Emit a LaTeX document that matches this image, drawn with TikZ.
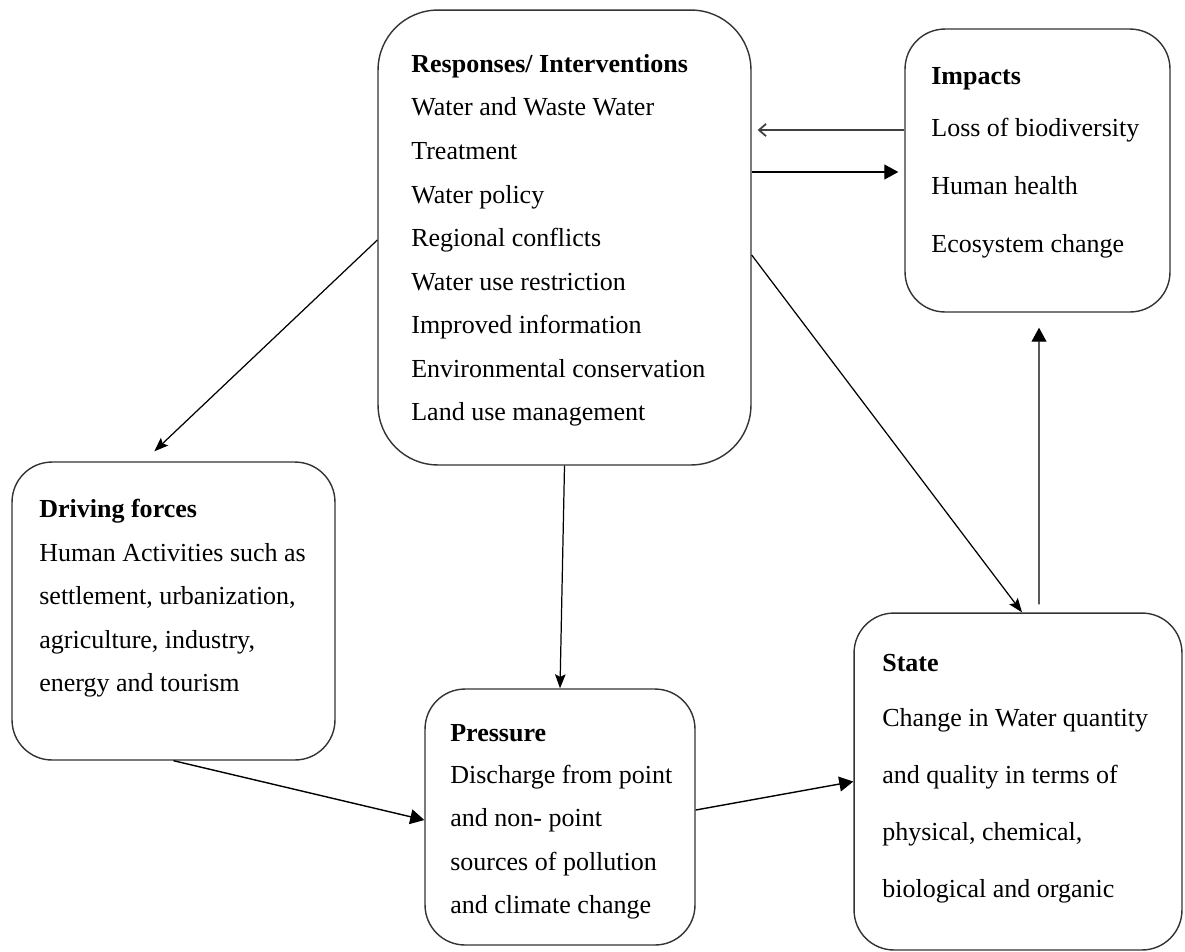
\documentclass[tikz,border=0pt]{standalone}
\usepackage{fontspec}
\setmainfont{Liberation Serif}
\usetikzlibrary{positioning,arrows.meta,calc}

\tikzset{
  box/.style={draw=black!80, line width=0.8pt, rounded corners=0.8cm, inner sep=0pt},
  txt/.style={anchor=north west, inner sep=0pt, align=left, font=\fontsize{14.8}{24.8}\selectfont},
  arr/.style={-{Triangle[length=8pt,width=8.5pt]}, line width=0.8pt},
  thin arr/.style={-{Stealth[length=8pt,width=6pt,inset=1.5pt]}, line width=0.7pt},
  back arr/.style={-{Straight Barb[length=4pt,width=7pt]}, line width=1pt, black!75}
}

\begin{document}
\begin{tikzpicture}[x=0.02cm, y=-0.02cm]
        \useasboundingbox (0,0) rectangle (1185,951);

        % Caixas
        \node[box, rounded corners=1.2cm, minimum width=7.46cm, minimum height=9.1cm] (resp) at (564.5,237.5) {};
        \node[box, minimum width=5.3cm, minimum height=5.66cm] (imp) at (1037.5,170.5) {};
        \node[box, minimum width=6.46cm, minimum height=5.96cm] (drive) at (173.5,611) {};
        \node[box, minimum width=5.4cm, minimum height=5.12cm] (press) at (560,817) {};
        \node[box, minimum width=6.56cm, minimum height=6.74cm] (state) at (1018,781.5) {};

        % Textos
        \node[txt] (resp text) at (411,54) {\textbf{Responses/ Interventions}\\Water and Waste Water\\Treatment\\Water policy\\Regional conflicts\\Water use restriction\\Improved information\\Environmental conservation\\Land use management};
        \node[txt, font=\fontsize{14.8}{33}\selectfont] (imp text) at (931,67) {\textbf{Impacts}\\[-3.4pt]Loss of biodiversity\\Human health\\Ecosystem change};
        \node[txt] (drive text) at (39,499) {\textbf{Driving forces}\\Human Activities such as\\settlement, urbanization,\\agriculture, industry,\\energy and tourism};
        \node[txt] (press text) at (450,724) {\textbf{Pressure}\\[-1pt]Discharge from point\\and non- point\\sources of pollution\\and climate change};
        \node[txt, font=\fontsize{14.8}{32.4}\selectfont] (state text) at (882,654) {\textbf{State}\\[-1pt]Change in Water quantity\\and quality in terms of\\physical, chemical,\\biological and organic};

        % Setas
        \draw[back arr] (imp.west |- 0,130) -- ($(resp.east |- 0,130)+(6,0)$);
        \draw[arr] (resp.east |- 0,172) -- ($(imp.west |- 0,172)+(-6,0)$);
        \draw[thin arr] (resp.west |- 0,240) -- ($(drive.north west)+(143,-10)$);
        \draw[thin arr] (resp.south) -- (press.north);
        \draw[thin arr] (resp.east |- 0,255) -- ($(state.north)+(4,0)$);
        \draw[arr] ($(state.north)+(21,-8)$) -- ($(imp.south)+(1.5,15)$);
        \draw[arr] (drive.south) -- ($(press.west)+(0,3)$);
        \draw[arr] (press.east |- 0,810) -- (state.west);

\end{tikzpicture}
\end{document}
